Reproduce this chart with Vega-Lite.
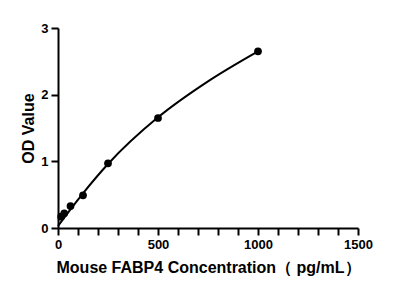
{
  "$schema": "https://vega.github.io/schema/vega-lite/v6.json",
  "width": 300,
  "height": 200,
  "autosize": "none",
  "padding": {"left": 58, "top": 28, "right": 46, "bottom": 68},
  "background": "white",
  "config": {
    "view": {"stroke": null},
    "axis": {
      "domainColor": "black",
      "domainWidth": 2,
      "ticks": true,
      "tickColor": "black",
      "tickWidth": 2,
      "labelFont": "Liberation Sans",
      "labelFontWeight": "bold",
      "labelFontSize": 13,
      "labelColor": "black",
      "titleFont": "Liberation Sans",
      "titleFontWeight": "bold",
      "titleFontSize": 16,
      "titleColor": "black",
      "grid": false
    }
  },
  "datasets": {
    "pts": [
      {"conc": 15.6, "od": 0.17},
      {"conc": 31.25, "od": 0.22},
      {"conc": 62.5, "od": 0.33},
      {"conc": 125, "od": 0.49},
      {"conc": 250, "od": 0.97},
      {"conc": 500, "od": 1.65},
      {"conc": 1000, "od": 2.65}
    ],
    "fit": [
      {"conc": 0, "od": 0.03},
      {"conc": 62.5, "od": 0.28},
      {"conc": 125, "od": 0.52},
      {"conc": 250, "od": 0.96},
      {"conc": 500, "od": 1.66},
      {"conc": 750, "od": 2.2},
      {"conc": 1000, "od": 2.65}
    ]
  },
  "encoding": {
    "x": {
      "field": "conc", "type": "quantitative",
      "scale": {"domain": [0, 1500], "nice": false},
      "axis": {
        "title": "Mouse FABP4 Concentration\uff08 pg/mL\uff09",
        "ticks": true,
        "labelOverlap": false,
        "labelFlush": false,
        "values": [0,100,200,300,400,500,600,700,800,900,1000,1100,1200,1300,1400,1500],
        "labelExpr": "datum.value % 500 === 0 ? format(datum.value, 'd') : ''",
        "tickSize": 7,
        "tickColor": "black",
        "tickOpacity": 1,
        "labelPadding": 3,
        "titlePadding": 8
      }
    },
    "y": {
      "field": "od", "type": "quantitative",
      "scale": {"domain": [0, 3], "nice": false},
      "axis": {"title": "OD Value", "format": "d", "labelOverlap": false, "values": [0, 1, 2, 3], "tickSize": 7, "labelPadding": 3, "titlePadding": 4}
    }
  },
  "layer": [
    {
      "data": {"name": "fit"},
      "mark": {"type": "line", "color": "black", "strokeWidth": 2, "interpolate": "monotone"}
    },
    {
      "data": {"name": "pts"},
      "mark": {"type": "point", "filled": true, "color": "black", "opacity": 1, "size": 60}
    }
  ]
}
